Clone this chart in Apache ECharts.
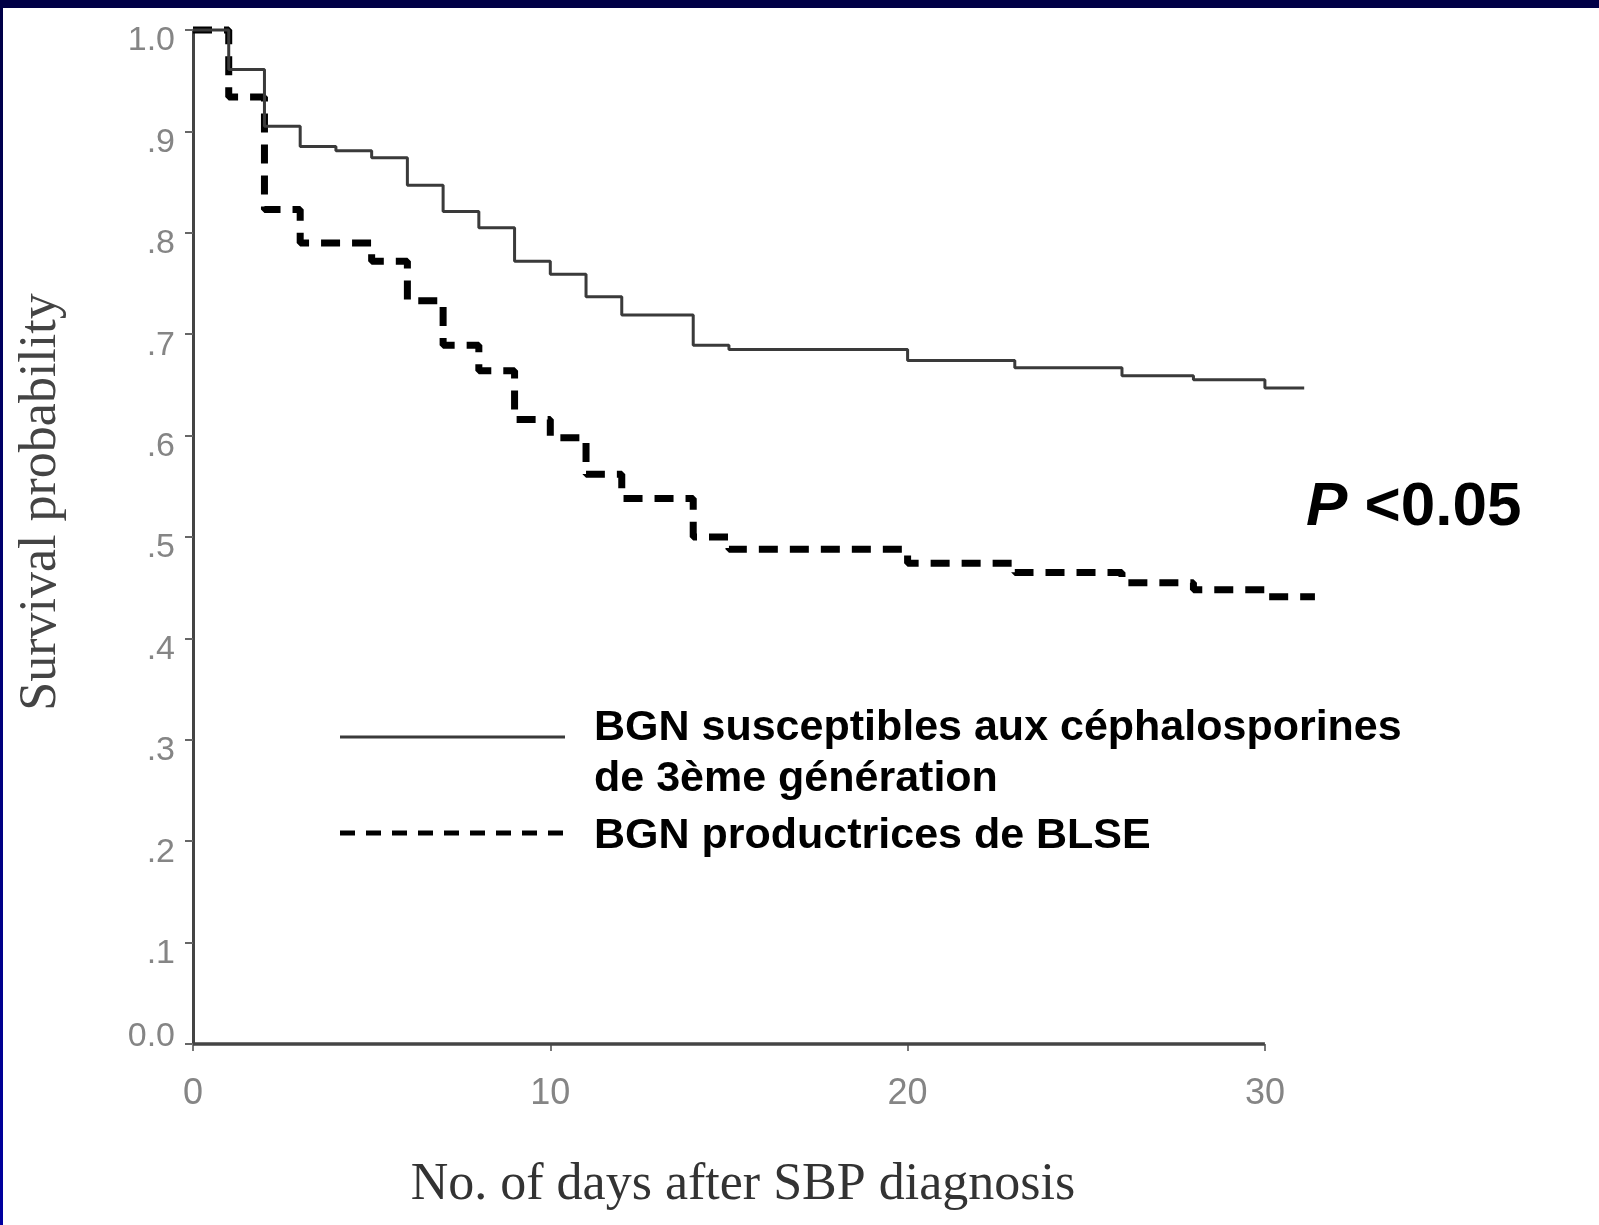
<!DOCTYPE html>
<html>
<head>
<meta charset="utf-8">
<title>Survival probability</title>
<script src="https://cdn.jsdelivr.net/npm/echarts@6.0.0/dist/echarts.min.js"></script>
<style>
  html, body { margin: 0; padding: 0; background: #fff; }
  #chart { width: 1599px; height: 1225px; }
</style>
</head>
<body>
<div id="chart"></div>
<script>
// Kaplan-Meier curves
var susceptibleDays = [0, 1, 2, 3, 4, 5, 6, 7, 8, 9, 10, 11, 12, 14, 15, 20, 23, 26, 28, 30, 31.1];
var susceptibleSurv = [1.0, 0.961, 0.905, 0.885, 0.881, 0.874, 0.847, 0.821, 0.805, 0.772, 0.759, 0.737, 0.719, 0.689, 0.685, 0.674, 0.667, 0.659, 0.655, 0.647, 0.647];

var blseDays = [0, 1, 2, 3, 5, 6, 7, 8, 9, 10, 11, 12, 14, 15, 20, 23, 26, 28, 30, 31.4];
var blseSurv = [1.0, 0.934, 0.823, 0.790, 0.772, 0.733, 0.689, 0.664, 0.616, 0.598, 0.562, 0.538, 0.500, 0.488, 0.474, 0.465, 0.455, 0.448, 0.441, 0.441];

var seriesNames = ['BGN susceptibles aux céphalosporines de 3ème génération', 'BGN productrices de BLSE'];
var xTicks = [0, 10, 20, 30];
var yTickLabels = ['0.0', '.1', '.2', '.3', '.4', '.5', '.6', '.7', '.8', '.9', '1.0'];

function pairs(xs, ys) {
    return xs.map(function (x, i) { return [x, ys[i]]; });
}

var labelGray = '#858585';
var sans = '"Liberation Sans", Arial, sans-serif';
var serif = '"Liberation Serif", "Times New Roman", serif';

// curves run a bit past day 30, so the x scale goes to 31.5
// but the axis line / ticks stop at 30 like in the figure
var xMax = 31.5;
var pxPerDay = 35.73;

var chart = echarts.init(document.getElementById('chart'));

chart.setOption({
    backgroundColor: '#ffffff',
    animation: false,
    grid: { left: 193, top: 30, width: xMax * pxPerDay, height: 1014, containLabel: false, outerBoundsMode: 'none' },
    xAxis: {
        type: 'value',
        min: 0,
        max: xMax,
        interval: 10,
        splitLine: { show: false },
        axisLine: { show: false },
        axisTick: { show: true, length: 7, customValues: xTicks, lineStyle: { color: '#777', width: 2 } },
        axisLabel: { fontSize: 36, color: labelGray, fontFamily: sans, margin: 32, customValues: xTicks },
        name: 'No. of days after SBP diagnosis',
        nameLocation: 'middle',
        nameGap: 115,
        nameTextStyle: { fontFamily: serif, fontSize: 52, color: '#333', padding: [0, 0, 0, 28 - (xMax - 30) * pxPerDay] }
    },
    yAxis: {
        type: 'value',
        min: 0,
        max: 1,
        interval: 0.1,
        splitLine: { show: false },
        axisLine: { show: true, lineStyle: { color: '#444', width: 3 } },
        axisTick: { show: true, length: 8, lineStyle: { color: '#666', width: 2 } },
        axisLabel: {
            margin: 18,
            formatter: function (v) {
                var s = yTickLabels[Math.round(v * 10)];
                return v === 0 ? '{z|' + s + '}' : '{n|' + s + '}';
            },
            rich: {
                n: { fontSize: 34, color: labelGray, fontFamily: sans, padding: [22, 0, 0, 0] },
                z: { fontSize: 34, color: labelGray, fontFamily: sans, padding: [0, 0, 14, 0] }
            }
        },
        name: 'Survival probability',
        nameLocation: 'middle',
        nameGap: 126,
        nameTextStyle: { fontFamily: serif, fontSize: 52, color: '#444', padding: [0, 0, 0, 70] }
    },
    series: [{
        name: seriesNames[0],
        type: 'line',
        step: 'end',
        symbol: 'none',
        clip: false,
        data: pairs(susceptibleDays, susceptibleSurv),
        lineStyle: { color: '#3a3a3a', width: 3 },
        z: 3,
        // x axis line, 0 -> 30 days
        markLine: {
            silent: true,
            symbol: ['none', 'none'],
            label: { show: false },
            lineStyle: { color: '#444', width: 3.5, type: 'solid' },
            data: [[{ coord: [xTicks[0], 0] }, { coord: [xTicks[xTicks.length - 1], 0] }]]
        }
    }, {
        name: seriesNames[1],
        type: 'line',
        step: 'end',
        symbol: 'none',
        clip: false,
        data: pairs(blseDays, blseSurv),
        lineStyle: { color: '#000', width: 7, type: [19, 12] },
        z: 2
    }],
    graphic: [
        // slide frame
        { type: 'rect', shape: { x: 0, y: 0, width: 1599, height: 8 }, style: { fill: '#000046' }, z: 100 },
        {
            type: 'rect', shape: { x: 0, y: 0, width: 3, height: 1225 }, z: 100,
            style: { fill: new echarts.graphic.LinearGradient(0, 0, 0, 1, [{ offset: 0, color: '#000046' }, { offset: 1, color: '#0000a0' }]) }
        },
        // legend
        { type: 'line', shape: { x1: 340, y1: 737, x2: 565, y2: 737 }, style: { stroke: '#3a3a3a', lineWidth: 3 } },
        { type: 'line', shape: { x1: 340, y1: 833, x2: 573, y2: 833 }, style: { stroke: '#000', lineWidth: 5, lineDash: [15, 11] } },
        { type: 'text', x: 594, y: 728, style: { text: 'BGN susceptibles aux céphalosporines', font: 'bold 43px ' + sans, fill: '#000', verticalAlign: 'middle' } },
        { type: 'text', x: 594, y: 779, style: { text: 'de 3ème génération', font: 'bold 43px ' + sans, fill: '#000', verticalAlign: 'middle' } },
        { type: 'text', x: 594, y: 836, style: { text: 'BGN productrices de BLSE', font: 'bold 43px ' + sans, fill: '#000', verticalAlign: 'middle' } },
        {
            type: 'text', x: 1306, y: 508,
            style: {
                text: '{i|P} {b|<0.05}',
                font: 'bold 62px ' + sans,
                fill: '#000',
                verticalAlign: 'middle',
                rich: {
                    i: { fontStyle: 'italic', fontWeight: 'bold', fontSize: 62, fontFamily: sans, color: '#000' },
                    b: { fontWeight: 'bold', fontSize: 62, fontFamily: sans, color: '#000' }
                }
            }
        }
    ]
});
</script>
</body>
</html>
